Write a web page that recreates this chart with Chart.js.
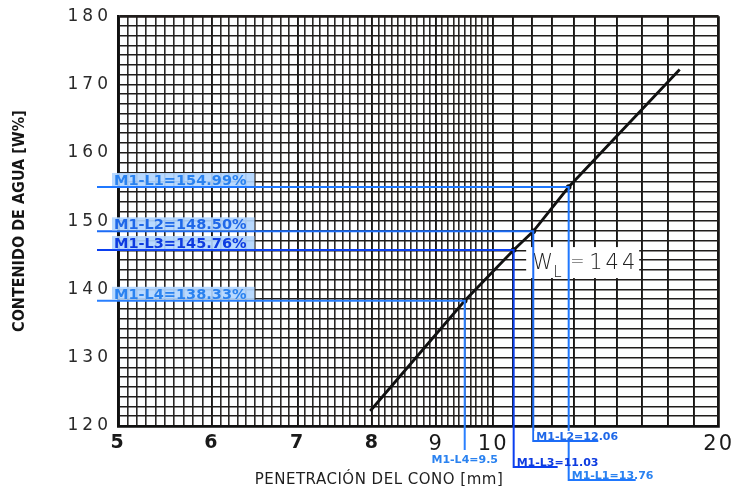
<!DOCTYPE html>
<html>
<head>
<meta charset="utf-8">
<script src="https://cdn.jsdelivr.net/npm/chart.js@4/dist/chart.umd.min.js"></script>
<style>
  html, body { margin: 0; padding: 0; background: #fff; }
  #wrap { width: 738px; height: 486px; position: relative; }
</style>
</head>
<body>
<div id="wrap"><canvas id="cone"></canvas></div>
<script>
// ---- data -------------------------------------------------------------
const penetrationLabels = [5, 6, 7, 8, 9, 10, 20];          // labelled x ticks (mm)
const waterLabels = [120, 130, 140, 150, 160, 170, 180];     // labelled y ticks (%)
const samples = ['M1-L1', 'M1-L2', 'M1-L3', 'M1-L4'];
const samplePenetration = [13.76, 12.06, 11.03, 9.5];        // mm
const sampleWater = [154.99, 148.50, 145.76, 138.33];        // %
const flowStart = [7.97, 122.2];                              // start of the flow line (mm, %)
const flowEnd = [18.46, 172.2];                               // end of the flow line (mm, %)
const liquidLimit = 144;                                      // W_L (%)

// ---- graph-paper x axis: unit cells of uneven width --------------------
const PAPER = {
  values:    [5, 6, 7, 8, 9, 10, 11, 12, 13, 14, 15, 16, 17, 18, 19, 20],
  fractions: [0, .1561, .2990, .4236, .5299, .6246, .6578, .6894, .7226, .7591, .7940, .8306, .8721, .9153, .9585, 1]
};
function paperDecimal(v) {
  const V = PAPER.values, F = PAPER.fractions;
  let i = 0;
  while (i < V.length - 2 && v > V[i + 1]) i++;
  return F[i] + (v - V[i]) / (V[i + 1] - V[i]) * (F[i + 1] - F[i]);
}
function paperValue(d) {
  const V = PAPER.values, F = PAPER.fractions;
  let i = 0;
  while (i < F.length - 2 && d > F[i + 1]) i++;
  return V[i] + (d - F[i]) / (F[i + 1] - F[i]) * (V[i + 1] - V[i]);
}
class PaperScale extends Chart.LinearScale {
  getPixelForValue(value) {
    if (value === null || value === undefined || isNaN(value)) return NaN;
    return this.getPixelForDecimal(paperDecimal(+value));
  }
  getValueForPixel(pixel) {
    return paperValue(this.getDecimalForPixel(pixel));
  }
  drawLabels(area) {
    this.ctx.save();
    this.ctx.letterSpacing = '2px';
    super.drawLabels(area);
    this.ctx.restore();
  }
}
PaperScale.id = 'paper';
PaperScale.defaults = Chart.LinearScale.defaults;

class SpacedLinearScale extends Chart.LinearScale {
  drawLabels(area) {
    this.ctx.save();
    this.ctx.letterSpacing = '4px';
    super.drawLabels(area);
    this.ctx.restore();
  }
}
SpacedLinearScale.id = 'spacedLinear';
SpacedLinearScale.defaults = Chart.LinearScale.defaults;
Chart.register(PaperScale, SpacedLinearScale);

// grid: tenths between 5 and 10, whole millimetres from 10 to 20
const xGrid = [];
for (let k = 50; k <= 100; k++) xGrid.push(k / 10);
for (let v = 11; v <= 20; v++) xGrid.push(v);
// grid: seven rows per 10 %
const yGrid = [];
for (let k = 0; k <= 42; k++) yGrid.push(120 + k * 10 / 7);

const isMultipleOf10 = v => Math.abs(v - Math.round(v / 10) * 10) < 1e-6;

// flow line through the four determinations
const flowPoints = [{ x: flowStart[0], y: flowStart[1] }]
  .concat(samplePenetration.map((p, i) => ({ x: p, y: sampleWater[i] })).sort((a, b) => a.x - b.x))
  .concat([{ x: flowEnd[0], y: flowEnd[1] }]);

// ---- styles for the sample guides --------------------------------------
const guideStyle = [
  { line: '#1f78ff', text: '#2a82f0', drop: 54, mode: 'under', under: 67 },
  { line: '#1c6cf6', text: '#1f68e8', drop: 15, mode: 'under', under: 65, bg: true },
  { line: '#0b3ff0', text: '#0d3be0', drop: 41, mode: 'under', under: 44 },
  { line: '#2a80ff', text: '#2a82f0', drop: 24, mode: 'center' }
];

const FONT_LABEL = '"DejaVu Sans", sans-serif';

const liquidLimitBox = {
  id: 'liquidLimitBox',
  beforeDatasetsDraw(chart) {
    const { ctx, scales: { x, y } } = chart;
    const wy = y.getPixelForValue(liquidLimit);
    const bx = x.getPixelForValue(10) + 33;
    ctx.save();
    ctx.fillStyle = '#fff';
    ctx.fillRect(bx, wy - 15, 113, 31);
    ctx.fillStyle = '#222';
    ctx.textBaseline = 'alphabetic';
    ctx.font = '300 21px ' + FONT_LABEL;
    ctx.fillText('W', bx + 6, wy + 7);
    ctx.font = '300 15px ' + FONT_LABEL;
    ctx.fillText('L', bx + 27, wy + 15);
    ctx.font = '300 17px ' + FONT_LABEL;
    ctx.fillText('=', bx + 44, wy + 5);
    ctx.font = '300 21px ' + FONT_LABEL;
    ctx.letterSpacing = '3px';
    ctx.fillText(String(liquidLimit), bx + 63, wy + 7);
    ctx.restore();
  }
};

const sampleGuides = {
  id: 'sampleGuides',
  afterDatasetsDraw(chart) {
    const { ctx, chartArea: a, scales: { x, y } } = chart;
    const pts = samples.map((_, i) => ({
      px: x.getPixelForValue(samplePenetration[i]),
      py: y.getPixelForValue(sampleWater[i])
    }));
    ctx.save();
    // guide lines
    pts.forEach((p, i) => {
      const st = guideStyle[i];
      ctx.strokeStyle = st.line;
      ctx.lineWidth = 2;
      ctx.beginPath();
      ctx.moveTo(a.left - 21, p.py);
      ctx.lineTo(p.px, p.py);
      ctx.lineTo(p.px, a.bottom + st.drop);
      if (st.mode === 'under') ctx.lineTo(p.px + st.under, a.bottom + st.drop);
      ctx.stroke();
    });
    // water content labels
    ctx.font = 'bold 14.5px ' + FONT_LABEL;
    ctx.textBaseline = 'alphabetic';
    pts.forEach((p, i) => {
      const st = guideStyle[i];
      const txt = samples[i] + '=' + sampleWater[i].toFixed(2) + '%';
      const w = ctx.measureText(txt).width;
      ctx.fillStyle = 'rgba(178,214,255,0.92)';
      ctx.fillRect(a.left - 6, p.py - 14, w + 10, 13);
      ctx.fillStyle = st.text;
      ctx.fillText(txt, a.left - 4, p.py - 2);
    });
    // penetration labels
    ctx.font = 'bold 11px ' + FONT_LABEL;
    pts.forEach((p, i) => {
      const st = guideStyle[i];
      const txt = samples[i] + '=' + samplePenetration[i];
      const w = ctx.measureText(txt).width;
      const yb = a.bottom + st.drop;
      if (st.mode === 'center') {
        ctx.textAlign = 'center';
        ctx.fillStyle = st.text;
        ctx.fillText(txt, p.px, yb + 13);
        ctx.textAlign = 'left';
      } else {
        if (st.bg) {
          ctx.fillStyle = '#fff';
          ctx.fillRect(p.px + 1, yb - 10, w + 4, 9);
        }
        ctx.fillStyle = st.text;
        ctx.fillText(txt, p.px + 3, yb - 1);
      }
    });
    // x axis title
    ctx.fillStyle = '#1e1e1e';
    ctx.font = '15px ' + FONT_LABEL;
    ctx.textAlign = 'center';
    ctx.letterSpacing = '0.5px';
    ctx.fillText('PENETRACIÓN DEL CONO [mm]', 379, a.bottom + 58);
    ctx.restore();
  }
};

new Chart(document.getElementById('cone'), {
  type: 'line',
  data: {
    datasets: [{
      data: flowPoints,
      borderColor: '#111',
      borderWidth: 2.8,
      pointRadius: ctx => (ctx.dataIndex === 0 || ctx.dataIndex === flowPoints.length - 1) ? 0 : 2.8,
      pointBackgroundColor: '#111',
      pointBorderWidth: 0,
      tension: 0
    }]
  },
  options: {
    responsive: true,
    maintainAspectRatio: false,
    animation: false,
    events: [],
    layout: { padding: { top: 15, right: 18, bottom: 0, left: 0 } },
    plugins: { legend: { display: false }, tooltip: { enabled: false } },
    scales: {
      x: {
        type: 'paper',
        min: 5, max: 20,
        afterBuildTicks: s => { s.ticks = xGrid.map(v => ({ value: v })); },
        afterFit: s => { s.height = 60; },
        ticks: {
          autoSkip: false, maxRotation: 0, padding: 6, color: '#1a1a1a',
          callback: v => penetrationLabels.includes(v) ? String(v) : '',
          font: c => (c.tick && c.tick.value < 9)
            ? { family: FONT_LABEL, size: 19, weight: 'bold' }
            : { family: FONT_LABEL, size: 21, weight: 'normal' }
        },
        grid: {
          drawTicks: false,
          color: c => Number.isInteger(c.tick && c.tick.value) ? '#181614' : '#2b2826',
          lineWidth: c => {
            const v = c.tick && c.tick.value;
            if (v === 5 || v === 20) return 2.8;
            return Number.isInteger(v) ? 1.9 : 1.6;
          }
        },
        border: { display: true, color: '#111', width: 2.8 }
      },
      y: {
        type: 'spacedLinear',
        min: 120, max: 180,
        afterBuildTicks: s => { s.ticks = yGrid.map(v => ({ value: v })); },
        afterFit: s => { s.width = 118; },
        ticks: {
          autoSkip: false, padding: 6, color: '#2a2a2a',
          font: { family: FONT_LABEL, size: 17, weight: 'normal' },
          callback: v => isMultipleOf10(v) && waterLabels.includes(Math.round(v)) ? String(Math.round(v)) : ''
        },
        grid: {
          drawTicks: false,
          color: '#201d1b',
          lineWidth: c => {
            const v = c.tick && c.tick.value;
            if (Math.abs(v - 180) < 1e-6) return 2.8;
            return 1.6;
          }
        },
        border: { display: true, color: '#111', width: 2.8 },
        title: {
          display: true,
          text: 'CONTENIDO DE AGUA [W%]',
          color: '#151515',
          padding: { top: 10, bottom: 0 },
          font: { family: '"Liberation Sans Narrow", "DejaVu Sans Condensed", sans-serif', size: 16, weight: 'bold' }
        }
      }
    }
  },
  plugins: [liquidLimitBox, sampleGuides]
});
</script>
</body>
</html>
